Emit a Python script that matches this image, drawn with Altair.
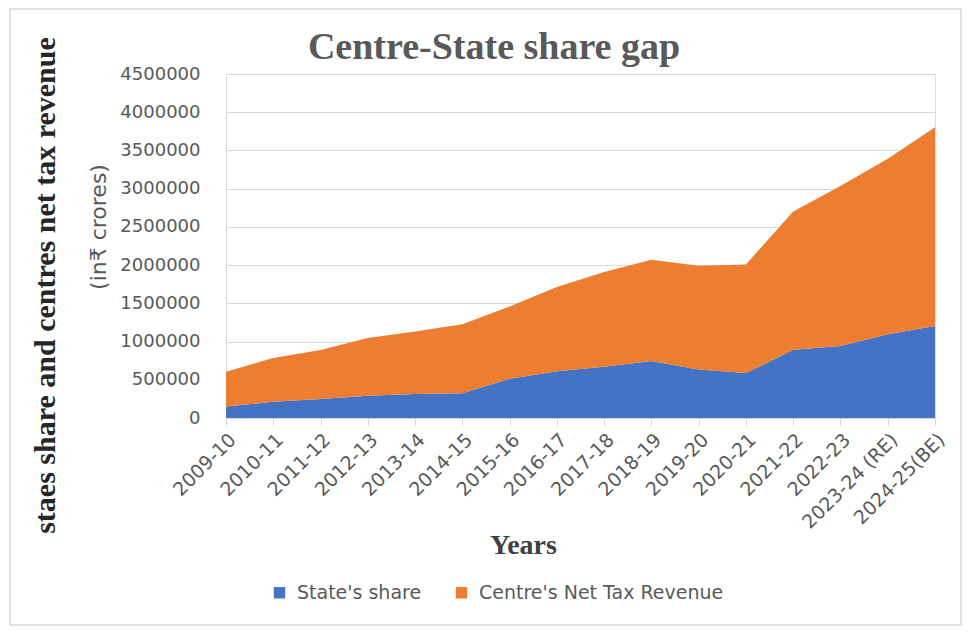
import altair as alt
import pandas as pd

years = ["2009-10", "2010-11", "2011-12", "2012-13", "2013-14", "2014-15",
         "2015-16", "2016-17", "2017-18", "2018-19", "2019-20", "2020-21",
         "2021-22", "2022-23", "2023-24 (RE)", "2024-25(BE)"]
states_share = [150000, 212000, 248000, 290000, 315000, 325000, 515000, 610000,
                670000, 745000, 635000, 588000, 892000, 942000, 1095000, 1205000]
centre_net = [456000, 573000, 640000, 755000, 815000, 900000, 945000, 1105000,
              1240000, 1325000, 1358000, 1420000, 1808000, 2092000, 2295000, 2600000]
series_names = ["State's share", "Centre's Net Tax Revenue"]
colors = ["#4472C4", "#ED7D31"]
y_ticks = [0, 500000, 1000000, 1500000, 2000000, 2500000, 3000000, 3500000, 4000000, 4500000]
chart_title = "Centre-State share gap"
y_title = "staes share and centres net tax revenue"
y_note = "(in₹ crores)"

rows = []
for i, yr in enumerate(years):
    rows.append({"Year": yr, "Series": series_names[0], "Value": states_share[i], "ord": 0})
    rows.append({"Year": yr, "Series": series_names[1], "Value": centre_net[i], "ord": 1})
df = pd.DataFrame(rows)

W, H = 709, 344
PL, PT = 218, 66
SVG_W, SVG_H = 954, 618

area = alt.Chart(df).mark_area(opacity=1).encode(
    x=alt.X("Year:N", sort=years, scale=alt.Scale(padding=0),
            axis=alt.Axis(title="Years", labelAngle=-45, labelAlign="right",
                          labelBaseline="top", labelFont="DejaVu Sans", labelFontSize=19,
                          labelColor="#595959", labelPadding=4,
                          domainColor="#D9D9D9", tickColor="#D9D9D9", tickSize=8,
                          grid=False,
                          titleFont="Liberation Serif", titleFontSize=28, titleFontWeight="bold",
                          titleColor="#404040", titleX=297, titleY=127,
                          titleBaseline="middle", titleAlign="center")),
    y=alt.Y("Value:Q", stack="zero",
            scale=alt.Scale(domain=[0, 4500000], nice=False),
            axis=alt.Axis(title=y_title,
                          values=y_ticks, format="d",
                          labelFont="DejaVu Sans", labelFontSize=18, labelColor="#595959",
                          labelPadding=26,
                          domain=False, ticks=False,
                          gridColor="#D9D9D9", gridWidth=1,
                          titleFont="Liberation Serif", titleFontSize=30, titleFontWeight="bold",
                          titleColor="#262626", titleAngle=270, titleX=-172, titleY=211,
                          titleAlign="center", titleBaseline="alphabetic")),
    color=alt.Color("Series:N", sort=series_names,
                    scale=alt.Scale(domain=series_names, range=colors),
                    legend=alt.Legend(title=None, orient="none", direction="horizontal",
                                      legendX=44, legendY=509,
                                      symbolType="square", symbolSize=130,
                                      symbolStrokeWidth=0, labelLimit=0,
                                      labelFont="DejaVu Sans", labelFontSize=19,
                                      labelColor="#595959", columnPadding=30,
                                      labelOffset=8)),
    order=alt.Order("ord:Q"),
)

note = alt.Chart(pd.DataFrame({"t": [y_note]})).mark_text(
    angle=270, font="DejaVu Sans", fontSize=22, color="#595959",
    align="center", baseline="middle"
).encode(text="t:N", x=alt.value(-127), y=alt.value(153))

title = alt.Chart(pd.DataFrame({"t": [chart_title]})).mark_text(
    font="Liberation Serif", fontSize=38, fontWeight="bold", color="#595959",
    align="center", baseline="middle"
).encode(text="t:N", x=alt.value(268), y=alt.value(-26))

frame = alt.Chart(pd.DataFrame({"a": [0]})).mark_rect(
    fill="transparent", stroke="#D9D9D9", strokeWidth=1.5
).encode(x=alt.value(10 - 8 - PL), x2=alt.value(SVG_W - PL - 1),
         y=alt.value(-PT + 1), y2=alt.value(SVG_H - PT - 1))

chart = alt.layer(frame, area, note, title).properties(
    width=W, height=H,
    autosize=alt.AutoSizeParams(type="none"),
    padding={"left": PL, "top": PT, "right": SVG_W - PL - W, "bottom": SVG_H - PT - H},
).configure_view(stroke=None).configure(background="white")

chart.save("out.html", embed_options={"renderer": "svg", "actions": False})
